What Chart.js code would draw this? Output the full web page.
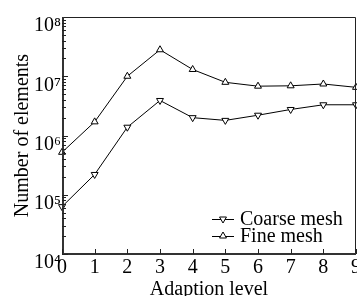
<!DOCTYPE html>
<html>
<head>
<meta charset="utf-8">
<script src="https://cdn.jsdelivr.net/npm/chart.js@4.4.1/dist/chart.umd.min.js"></script>
<style>
  html, body { margin: 0; padding: 0; background: #fff; }
  #wrap { width: 357px; height: 296px; }
</style>
</head>
<body>
<div id="wrap"><canvas id="theGraph"></canvas></div>
<script>
// adaption levels on the x-axis
var levels = ["0", "1", "2", "3", "4", "5", "6", "7", "8", "9"];
// number of elements per level
var coarse = [6.3e4, 2.2e5, 1.38e6, 3.9e6, 2.0e6, 1.8e6, 2.2e6, 2.75e6, 3.3e6, 3.3e6];
var fine = [5.2e5, 1.7e6, 1.0e7, 2.8e7, 1.3e7, 7.9e6, 6.8e6, 6.9e6, 7.4e6, 6.5e6];
var decades = [1e4, 1e5, 1e6, 1e7, 1e8];
var sup = ["⁴", "⁵", "⁶", "⁷", "⁸"];

var serif = "'Liberation Serif', 'Times New Roman', serif";
Chart.defaults.font.family = serif;
Chart.defaults.color = "#000";

// frame, inside ticks and legend
var extras = {
    id: "extras",
    afterDatasetsDraw: function (chart) {
        var c = chart.ctx, a = chart.chartArea;
        var ys = chart.scales.y, xs = chart.scales.x;
        c.save();
        // thin top and right sides
        c.strokeStyle = "#222";
        c.lineWidth = 1;
        c.beginPath();
        c.moveTo(a.left, a.top + 0.5);
        c.lineTo(a.right - 0.5, a.top + 0.5);
        c.lineTo(a.right - 0.5, a.bottom);
        c.stroke();
        // heavier axes
        c.strokeStyle = "#333";
        c.lineWidth = 2;
        c.beginPath();
        c.moveTo(a.left + 1, a.top);
        c.lineTo(a.left + 1, a.bottom);
        c.lineTo(a.right, a.bottom);
        c.stroke();

        c.strokeStyle = "#222";
        c.lineWidth = 1;
        c.beginPath();
        for (var n = 0; n < decades.length - 1; n++) {
            for (var m = 1; m < 10; m++) {
                var py = Math.round(ys.getPixelForValue(m * decades[n])) + 0.5;
                var len = m == 1 ? 6 : 4;
                c.moveTo(a.left, py);
                c.lineTo(a.left + len, py);
            }
        }
        for (var i = 0; i < levels.length; i++) {
            var px = Math.round(xs.getPixelForValue(i)) + 0.5;
            c.moveTo(px, a.bottom);
            c.lineTo(px, a.bottom - 5);
        }
        c.stroke();

        // legend
        var rows = [[chart.data.datasets[0], 219], [chart.data.datasets[1], 236]];
        c.font = "20px " + serif;
        c.textBaseline = "middle";
        rows.forEach(function (r) {
            var ds = r[0], y = r[1];
            c.strokeStyle = "#000";
            c.lineWidth = 1;
            c.beginPath();
            c.moveTo(212, y + 0.5);
            c.lineTo(234, y + 0.5);
            c.stroke();
            c.fillStyle = "#fff";
            Chart.helpers.drawPoint(c, {
                pointStyle: "triangle", radius: 4, rotation: ds.pointRotation,
                borderWidth: 1
            }, 223, y);
            c.fillStyle = "#000";
            c.fillText(ds.label, 240, y + 1);
        });
        c.restore();
    }
};

var graph = new Chart(document.getElementById("theGraph"), {
    type: "line",
    data: {
        labels: levels,
        datasets: [
            {
                label: "Coarse mesh",
                data: coarse,
                borderColor: "#000",
                borderWidth: 1,
                pointStyle: "triangle",
                pointRotation: 180,
                pointRadius: 4,
                pointBackgroundColor: "#fff",
                pointBorderColor: "#000",
                pointBorderWidth: 1
            },
            {
                label: "Fine mesh",
                data: fine,
                borderColor: "#000",
                borderWidth: 1,
                pointStyle: "triangle",
                pointRotation: 0,
                pointRadius: 4,
                pointBackgroundColor: "#fff",
                pointBorderColor: "#000",
                pointBorderWidth: 1
            }
        ]
    },
    options: {
        responsive: true,
        maintainAspectRatio: false,
        animation: false,
        layout: { autoPadding: false, padding: { top: 17, right: 1, left: 0, bottom: 0 } },
        plugins: {
            legend: { display: false },
            tooltip: { enabled: false }
        },
        scales: {
            x: {
                type: "category",
                offset: false,
                grid: { display: false, drawTicks: false },
                border: { display: false },
                ticks: { font: { size: 20 }, padding: 2, maxRotation: 0, autoSkip: false },
                title: {
                    display: true, text: "Adaption level",
                    font: { size: 20, lineHeight: 1 }, padding: { top: 0, bottom: -4 }
                },
                afterFit: function (s) { s.height = 42; s.paddingLeft = 0; s.paddingRight = 0; }
            },
            y: {
                type: "logarithmic",
                min: 1e4,
                max: 1e8,
                grid: { display: false, drawTicks: false },
                border: { display: false },
                afterBuildTicks: function (s) {
                    s.ticks = decades.map(function (v) { return { value: v }; });
                },
                ticks: {
                    font: { size: 20 }, padding: 1, autoSkip: false, labelOffset: 9,
                    callback: function (v) {
                        var k = decades.indexOf(v);
                        return k < 0 ? "" : "10" + sup[k];
                    }
                },
                title: {
                    display: true, text: "Number of elements",
                    font: { size: 20, lineHeight: 1 }, padding: { top: 13, bottom: 0 }
                },
                afterFit: function (s) { s.width = 62; s.paddingTop = 0; s.paddingBottom = 0; }
            }
        }
    },
    plugins: [extras]
});
</script>
</body>
</html>
